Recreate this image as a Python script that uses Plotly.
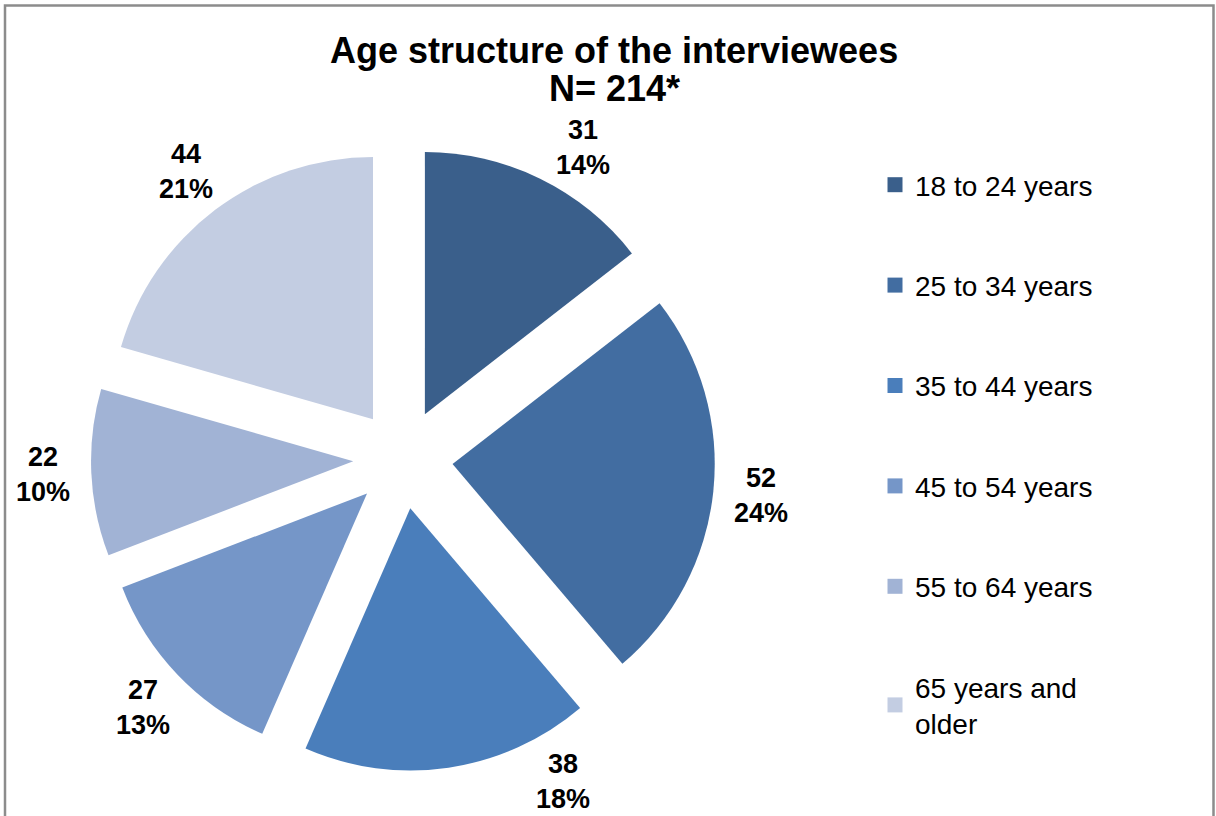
import math
import plotly.graph_objects as go

# Age groups of the interviewees and counts per group
age_groups = ["18 to 24 years", "25 to 34 years", "35 to 44 years",
              "45 to 54 years", "55 to 64 years", "65 years and<br>older"]
counts = [31, 52, 38, 27, 22, 44]
slice_colors = ["#3A5F8B", "#426DA1", "#4A7EBB", "#7596C8", "#A1B3D5", "#C3CDE2"]

W, H = 1216, 816
FONT = "Liberation Sans, Arial, sans-serif"

# pie placement (pixels): centre and half-size of the pie box
CX, CY, HALF = 403, 459, 312
PULL = 0.19
LABEL_R = 360                       # distance of the value labels from the centre
LABEL_NUDGE = [4, 0, -18, 0, 0, 0]  # degrees, keeps labels clear of the title and frame

fig = go.Figure()

# Exploded pie, starting at 12 o'clock and running clockwise
fig.add_trace(go.Pie(
    labels=age_groups,
    values=counts,
    sort=False,
    direction="clockwise",
    rotation=0,
    pull=[PULL] * len(counts),
    marker=dict(colors=slice_colors, line=dict(width=0)),
    textinfo="none",
    showlegend=False,
    hoverinfo="label+value+percent",
    domain=dict(x=[(CX - HALF) / W, (CX + HALF) / W],
                y=[1 - (CY + HALF) / H, 1 - (CY - HALF) / H]),
))

# Legend entries: one square marker per age group
for i, (name, col) in enumerate(zip(age_groups, slice_colors)):
    fig.add_trace(go.Scatter(
        x=[None], y=[None], mode="markers", name=name,
        marker=dict(symbol="square", size=15, color=col),
        legendgroup=f"g{i}", showlegend=True,
    ))

# Value / percentage labels placed outside each slice along its bisector
total = sum(counts)
annotations = []
cum = 0
for v, nudge in zip(counts, LABEL_NUDGE):
    mid = math.radians(360 * (cum + v / 2) / total + nudge)
    cum += v
    px = CX + LABEL_R * math.sin(mid)
    py = CY - LABEL_R * math.cos(mid)
    annotations.append(dict(
        text=f"<b>{v}<br>{round(100 * v / total)}%</b>",
        x=px / W, y=1 - py / H, xref="paper", yref="paper",
        xanchor="center", yanchor="middle", showarrow=False,
        font=dict(family=FONT, size=27, color="#000000"),
    ))

annotations += [
    dict(text="<b>Age structure of the interviewees</b>", x=614 / W, y=1 - 50 / H,
         xref="paper", yref="paper", xanchor="center", yanchor="middle", showarrow=False,
         font=dict(family=FONT, size=36, color="#000000")),
    dict(text="<b>N= 214*</b>", x=614 / W, y=1 - 88 / H,
         xref="paper", yref="paper", xanchor="center", yanchor="middle", showarrow=False,
         font=dict(family=FONT, size=36, color="#000000")),
]

fig.update_layout(
    width=W, height=H,
    margin=dict(l=0, r=0, t=0, b=0, autoexpand=False),
    paper_bgcolor="white",
    plot_bgcolor="white",
    xaxis=dict(visible=False),
    yaxis=dict(visible=False),
    legend=dict(
        x=875 / W, y=1 - 160 / H, xanchor="left", yanchor="top",
        font=dict(family=FONT, size=28, color="#000000"),
        tracegroupgap=61,
        itemwidth=30,
        bgcolor="rgba(0,0,0,0)",
    ),
    annotations=annotations,
    shapes=[
        dict(type="rect", xref="paper", yref="paper",
             x0=5 / W, x1=1213.5 / W, y0=-0.02, y1=1 - 5.5 / H,
             line=dict(color="#8C8C8C", width=2.5), fillcolor="rgba(0,0,0,0)"),
    ],
)

fig.write_html("out.html")
